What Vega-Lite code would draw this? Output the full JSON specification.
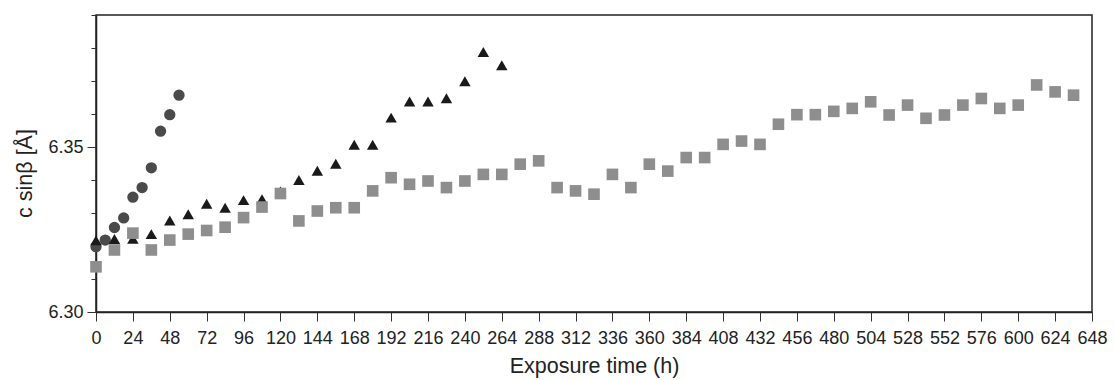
{
  "$schema": "https://vega.github.io/schema/vega-lite/v6.json",
  "width": 996,
  "height": 297,
  "autosize": "none",
  "padding": {"left": 96, "top": 15, "right": 22, "bottom": 68},
  "background": "white",
  "config": {
    "view": {"stroke": "#222", "strokeWidth": 1.5},
    "font": "Liberation Sans",
    "axis": {
      "labelFont": "Liberation Sans",
      "titleFont": "Liberation Sans",
      "titleFontWeight": "normal",
      "labelColor": "#222",
      "titleColor": "#222",
      "domainColor": "#222",
      "domainWidth": 1.5,
      "tickColor": "#333",
      "tickWidth": 1,
      "grid": false
    }
  },
  "data": {
    "values": [
      {"series": "c", "t": 0, "v": 6.3198},
      {"series": "c", "t": 6, "v": 6.3218},
      {"series": "c", "t": 12, "v": 6.3256},
      {"series": "c", "t": 18, "v": 6.3285},
      {"series": "c", "t": 24, "v": 6.3348},
      {"series": "c", "t": 30, "v": 6.3377},
      {"series": "c", "t": 36, "v": 6.3437},
      {"series": "c", "t": 42, "v": 6.3548},
      {"series": "c", "t": 48, "v": 6.3598},
      {"series": "c", "t": 54, "v": 6.3657},
      {"series": "t", "t": 0, "v": 6.3217},
      {"series": "t", "t": 12, "v": 6.3221},
      {"series": "t", "t": 24, "v": 6.3222},
      {"series": "t", "t": 36, "v": 6.3236},
      {"series": "t", "t": 48, "v": 6.3277},
      {"series": "t", "t": 60, "v": 6.3296},
      {"series": "t", "t": 72, "v": 6.3328},
      {"series": "t", "t": 84, "v": 6.3316},
      {"series": "t", "t": 96, "v": 6.3339},
      {"series": "t", "t": 108, "v": 6.3342},
      {"series": "t", "t": 120, "v": 6.3365},
      {"series": "t", "t": 132, "v": 6.3400},
      {"series": "t", "t": 144, "v": 6.3428},
      {"series": "t", "t": 156, "v": 6.3449},
      {"series": "t", "t": 168, "v": 6.3507},
      {"series": "t", "t": 180, "v": 6.3507},
      {"series": "t", "t": 192, "v": 6.3589},
      {"series": "t", "t": 204, "v": 6.3638},
      {"series": "t", "t": 216, "v": 6.3638},
      {"series": "t", "t": 228, "v": 6.3648},
      {"series": "t", "t": 240, "v": 6.3699},
      {"series": "t", "t": 252, "v": 6.3788},
      {"series": "t", "t": 264, "v": 6.3748},
      {"series": "s", "t": 0, "v": 6.3137},
      {"series": "s", "t": 12, "v": 6.3188},
      {"series": "s", "t": 24, "v": 6.3239},
      {"series": "s", "t": 36, "v": 6.3188},
      {"series": "s", "t": 48, "v": 6.3218},
      {"series": "s", "t": 60, "v": 6.3236},
      {"series": "s", "t": 72, "v": 6.3247},
      {"series": "s", "t": 84, "v": 6.3257},
      {"series": "s", "t": 96, "v": 6.3286},
      {"series": "s", "t": 108, "v": 6.3318},
      {"series": "s", "t": 120, "v": 6.3359},
      {"series": "s", "t": 132, "v": 6.3276},
      {"series": "s", "t": 144, "v": 6.3306},
      {"series": "s", "t": 156, "v": 6.3316},
      {"series": "s", "t": 168, "v": 6.3316},
      {"series": "s", "t": 180, "v": 6.3367},
      {"series": "s", "t": 192, "v": 6.3407},
      {"series": "s", "t": 204, "v": 6.3387},
      {"series": "s", "t": 216, "v": 6.3397},
      {"series": "s", "t": 228, "v": 6.3377},
      {"series": "s", "t": 240, "v": 6.3397},
      {"series": "s", "t": 252, "v": 6.3417},
      {"series": "s", "t": 264, "v": 6.3417},
      {"series": "s", "t": 276, "v": 6.3448},
      {"series": "s", "t": 288, "v": 6.3458},
      {"series": "s", "t": 300, "v": 6.3377},
      {"series": "s", "t": 312, "v": 6.3367},
      {"series": "s", "t": 324, "v": 6.3357},
      {"series": "s", "t": 336, "v": 6.3417},
      {"series": "s", "t": 348, "v": 6.3377},
      {"series": "s", "t": 360, "v": 6.3448},
      {"series": "s", "t": 372, "v": 6.3427},
      {"series": "s", "t": 384, "v": 6.3468},
      {"series": "s", "t": 396, "v": 6.3468},
      {"series": "s", "t": 408, "v": 6.3508},
      {"series": "s", "t": 420, "v": 6.3518},
      {"series": "s", "t": 432, "v": 6.3508},
      {"series": "s", "t": 444, "v": 6.3569},
      {"series": "s", "t": 456, "v": 6.3598},
      {"series": "s", "t": 468, "v": 6.3598},
      {"series": "s", "t": 480, "v": 6.3608},
      {"series": "s", "t": 492, "v": 6.3617},
      {"series": "s", "t": 504, "v": 6.3637},
      {"series": "s", "t": 516, "v": 6.3597},
      {"series": "s", "t": 528, "v": 6.3627},
      {"series": "s", "t": 540, "v": 6.3587},
      {"series": "s", "t": 552, "v": 6.3597},
      {"series": "s", "t": 564, "v": 6.3627},
      {"series": "s", "t": 576, "v": 6.3647},
      {"series": "s", "t": 588, "v": 6.3617},
      {"series": "s", "t": 600, "v": 6.3627},
      {"series": "s", "t": 612, "v": 6.3688},
      {"series": "s", "t": 624, "v": 6.3667},
      {"series": "s", "t": 636, "v": 6.3657}
    ]
  },
  "mark": {"type": "point", "filled": true, "opacity": 1, "strokeWidth": 0},
  "encoding": {
    "x": {
      "field": "t",
      "type": "quantitative",
      "scale": {"domain": [0, 648], "nice": false, "zero": false},
      "axis": {
        "title": "Exposure time (h)",
        "values": [0, 24, 48, 72, 96, 120, 144, 168, 192, 216, 240, 264, 288, 312, 336, 360, 384, 408, 432, 456, 480, 504, 528, 552, 576, 600, 624, 648],
        "tickSize": 9,
        "labelFontSize": 18,
        "titleFontSize": 21.5,
        "labelPadding": 8,
        "labelFlush": false,
        "labelOverlap": false,
        "titlePadding": 8
      }
    },
    "y": {
      "field": "v",
      "type": "quantitative",
      "scale": {"domain": [6.3, 6.39], "nice": false, "zero": false},
      "axis": {
        "title": "c sinβ [Å]",
        "values": [6.3, 6.31, 6.32, 6.33, 6.34, 6.35, 6.36, 6.37, 6.38, 6.39],
        "labelExpr": "round(datum.value*100) % 5 == 0 ? format(datum.value, '.2f') : ''",
        "tickSize": {"condition": {"test": "round(datum.value*100) % 5 == 0", "value": 9}, "value": 5},
        "labelFontSize": 18,
        "titleFontSize": 21.5,
        "labelPadding": 4,
        "labelOverlap": false,
        "labelFlush": false,
        "titlePadding": 11,
        "titleY": 158
      }
    },
    "shape": {
      "field": "series",
      "type": "nominal",
      "scale": {"domain": ["c", "t", "s"], "range": ["circle", "triangle-up", "square"]},
      "legend": null
    },
    "color": {
      "field": "series",
      "type": "nominal",
      "scale": {"domain": ["c", "t", "s"], "range": ["#4a4a4a", "#1a1a1a", "#8e8e8e"]},
      "legend": null
    },
    "size": {
      "field": "series",
      "type": "nominal",
      "scale": {"domain": ["c", "t", "s"], "range": [128, 135, 144]},
      "legend": null
    }
  }
}
